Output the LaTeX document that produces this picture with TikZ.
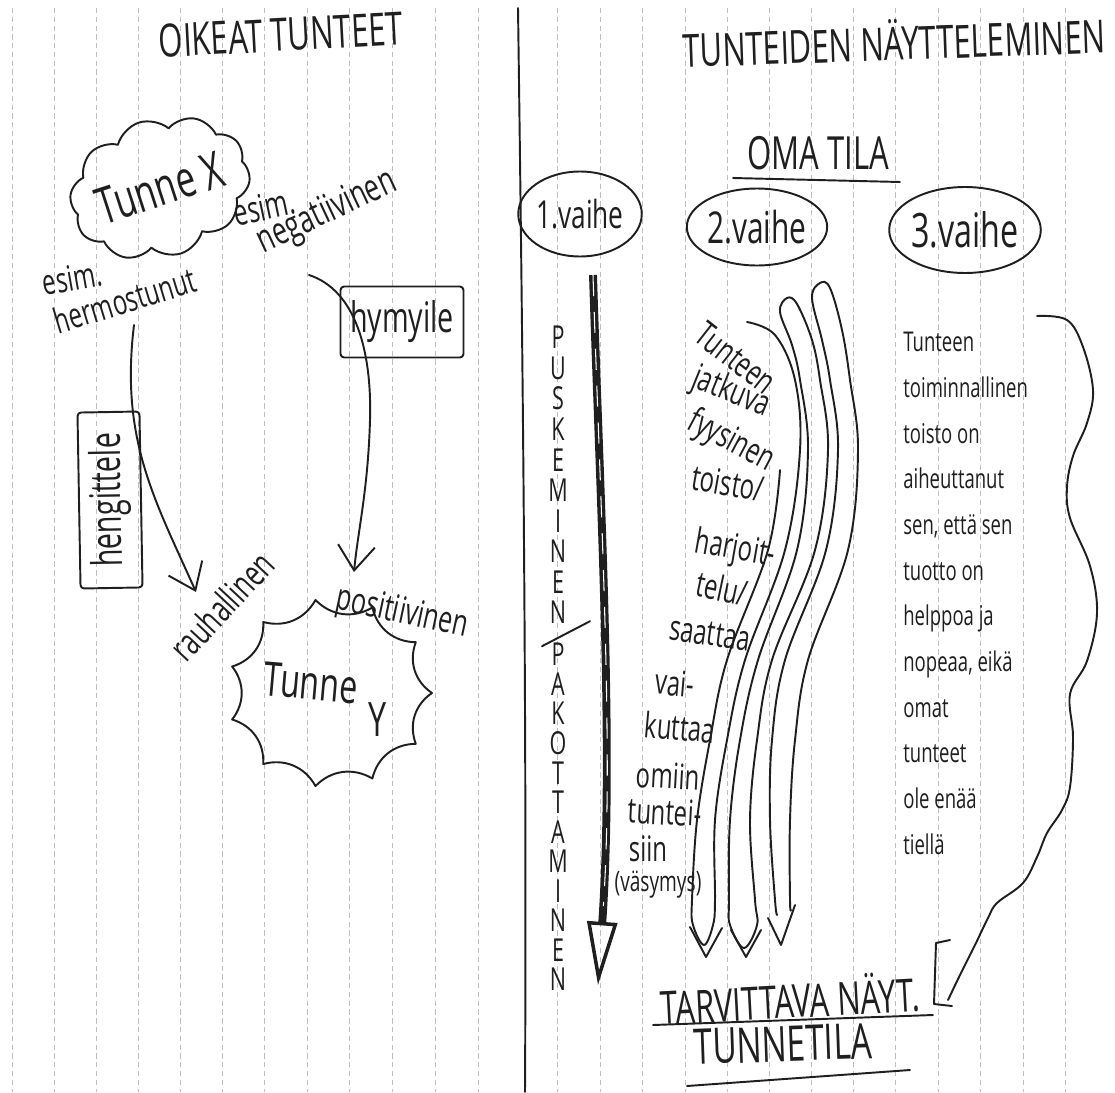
\documentclass[tikz,border=0pt]{standalone}
\usepackage{fontspec}
\setmainfont{Open Sans}[FakeStretch=0.68]
\usetikzlibrary{shapes.geometric,shapes.symbols,arrows.meta,calc}
\begin{document}
\begin{tikzpicture}[x=0.02cm, y=-0.02cm,
  ink/.style={draw=black!88, line width=1.1pt, line cap=round, line join=round},
  lbl/.style={inner sep=0pt, text=black!88},
  paper/.style={draw=black!25, line width=0.45pt, dash pattern=on 3pt off 2pt},
  barb/.style={-{Straight Barb[length=14pt, width=21pt, line width=1.1pt]}},
  boxed/.style={ink, lbl, rounded corners=2pt},
  oval/.style={ink, lbl, ellipse},
  fz/.style={font=\fontsize{#1}{#1}\selectfont},
]
\useasboundingbox (0,0) rectangle (1115,1092);
\fill[white] (0,0) rectangle (1115,1092);
% paper rulings
\foreach \x in {12,54,96,138,180,222,264,307,349,392,435,478,557,600,642,685,727,769,811,853,895,938,980,1023,1065}
  \draw[paper] (\x,8) -- (\x,1092);
% page divider
\draw[ink] (518,8) .. controls (522,300) and (527,700) .. (525,1092);

% ---------------- left page ----------------
\node[lbl, rotate=3, fz=26] (t1) at (281,35) {OIKEAT TUNTEET};
\node[ink, lbl, cloud, cloud puffs=10, cloud puff arc=115, cloud ignores aspect,
      minimum width=3.45cm, minimum height=2.75cm, rotate=18, fz=29] (tx) at (160,188) {Tunne X};
\node[lbl, rotate=12, fz=21] (en1) at (264,207) {esim.};
\node[lbl, rotate=25, fz=22] (en2) at (327,213) {negatiivinen};
\node[lbl, rotate=10, fz=20] (eh1) at (72,278) {esim.};
\node[lbl, rotate=17, fz=20] (eh2) at (125,300) {hermostunut};
\node[boxed, minimum width=2.46cm, minimum height=1.42cm, fz=24] (hy) at (402,322) {hymyile};
\node[boxed, rotate=91, minimum width=3.52cm, minimum height=1.24cm, fz=24] (he) at (110,500) {hengittele};
\node[lbl, rotate=47, fz=21] (rh) at (222,606) {rauhallinen};
\node[lbl, rotate=-12, fz=21] (ps) at (402,614) {positiivinen};
% burst
\coordinate (tyc) at (330,693);
\draw[ink] ($(tyc)+(0:2.04cm and 1.88cm)$)
  \foreach \k in {1,...,11}{ to[bend left=38] ($(tyc)+({\k*360/11}:2.04cm and 1.88cm)$) };
\node[lbl, rotate=-5, fz=27] (ty) at (311,683) {Tunne};
\node[lbl, fz=27] (tyy) at (378,720) {Y};
% arrows
\coordinate (hs) at (134,325);
\coordinate (hend) at (196,592);
\draw[ink, barb] (hs) .. controls (120,440) and (155,500) .. (hend);
\coordinate (ns) at (309,275);
\coordinate (nend) at (354,572);
\draw[ink, barb] (ns) .. controls (355,290) and (372,350) .. (370,420) .. controls (368,490) and (358,530) .. (nend);

% ---------------- right page ----------------
\node[lbl, rotate=2, fz=26] (t2) at (894,40) {TUNTEIDEN NÄYTTELEMINEN};
\node[lbl, fz=26] (oma) at (818,153) {OMA TILA};
\draw[ink] ($(oma)+(-85,25)$) -- ($(oma)+(82,29)$);
\node[oval, minimum width=2.3cm, minimum height=1.7cm, fz=22] (v1) at (580,214) {1.vaihe};
\node[oval, minimum width=2.7cm, minimum height=1.54cm, fz=25] (v2) at (757,227) {2.vaihe};
\node[oval, minimum width=2.9cm, minimum height=1.72cm, fz=27] (v3) at (965,230) {3.vaihe};

% phase 1: thick arrow
\coordinate (k1) at (593,275);
\coordinate (k1e) at (598,985);
\draw[black!88, line width=4.5pt, -{Triangle[open, length=36pt, width=17pt, line width=2pt]}]
  (k1) .. controls (600,500) and (614,750) .. (k1e);
\draw[white, line width=0.6pt, dash pattern=on 12pt off 9pt, shorten >=45pt]
  (k1) .. controls (600,500) and (614,750) .. (k1e);
\node[lbl, align=center, font=\fontsize{18}{17.4}\selectfont] (pk1) at (558,475) {P\\U\\S\\K\\E\\M\\I\\N\\E\\N};
\node[lbl, align=center, font=\fontsize{18}{16.8}\selectfont] (pk2) at (558,817) {P\\A\\K\\O\\T\\T\\A\\M\\I\\N\\E\\N};
\draw[ink] ($(pk1.south)+(-16,22)$) -- ($(pk1.south)+(32,-3)$);

% phase 2: text
\node[lbl, rotate=-38, fz=20] (c2a) at (736,358) {Tunteen};
\node[lbl, rotate=-22, fz=20] (c2b) at (731,393) {jatkuva};
\node[lbl, rotate=-28, fz=20] (c2c) at (731,442) {fyysinen};
\node[lbl, rotate=-10, fz=20] (c2d) at (728,483) {toisto/};
\node[lbl, rotate=-10, fz=20] (c2e) at (735,550) {harjoit-};
\node[lbl, rotate=-12, fz=20] (c2f) at (722,588) {telu/};
\node[lbl, rotate=-8, fz=20] (c2g) at (710,634) {saattaa};
\node[lbl, rotate=-5, fz=20] (c2h) at (675,683) {vai-};
\node[lbl, rotate=-5, fz=20] (c2i) at (680,727) {kuttaa};
\node[lbl, rotate=-3, fz=20] (c2j) at (668,776) {omiin};
\node[lbl, rotate=-3, fz=20] (c2k) at (665,812) {tuntei-};
\node[lbl, fz=20] (c2l) at (648,849) {siin};
\node[lbl, fz=16] (c2m) at (658,885) {(väsymys)};
% phase 2: hollow arrows
\draw[ink] plot[smooth, tension=0.6] coordinates {(747,322) (775,335) (795,380) (800,450) (785,550) (745,660) (727,740) (715,820) (715,900) (713,925) (704,945) (693,925) (692,900) (697,820) (710,740) (727,660) (768,550) (780,470)};
\draw[ink] plot[smooth cycle, tension=0.6] coordinates {(730,925) (729,900) (730,820) (740,740) (758,660) (797,550) (808,450) (800,380) (792,345) (780,312) (787,298) (797,304) (812,340) (820,380) (828,450) (815,550) (772,660) (757,740) (750,820) (755,900) (757,925) (744,948)};
\draw[ink] plot[smooth, tension=0.6] coordinates {(777,915) (775,900) (770,820) (772,740) (785,660) (826,550) (838,450) (830,380) (822,340) (812,298) (820,283) (830,288) (842,330) (850,380) (858,450) (848,550) (808,660) (795,740) (790,820) (790,900) (791,910)};
\draw[ink] (690,927) -- (706,957) -- (722,928);
\draw[ink] (731,930) -- (746,957) -- (761,930);
\draw[ink] (768,918) -- (781,945) -- (795,905);

% phase 3: text and brace
\node[lbl, anchor=north west, align=left, font=\fontsize{15.5}{26}\selectfont] (c3) at (903,332)
  {Tunteen\\toiminnallinen\\toisto on\\aiheuttanut\\sen, että sen\\tuotto on\\helppoa ja\\nopeaa, eikä\\omat\\tunteet\\ole enää\\tiellä};
\draw[ink] plot[smooth, tension=0.6] coordinates {(1037,316) (1067,320) (1083,347) (1093,390) (1087,423) (1073,456) (1067,487) (1070,518) (1090,566) (1097,613) (1087,661) (1070,694) (1073,737) (1070,787) (1062,810) (1047,833) (1037,857) (1023,883) (997,903) (988,918) (975,945) (960,975) (948,1000)};
\draw[ink] (950,940) -- (936,943) -- (934,1004) -- (952,1006);

% target state
\node[lbl, rotate=3, fz=26] (tv) at (790,998) {TARVITTAVA NÄYT.};
\draw[ink] ($(tv)+(-137,27)$) -- ($(tv)+(143,17)$);
\node[lbl, rotate=2, fz=28] (tn) at (783,1044) {TUNNETILA};
\draw[ink] ($(tn)+(-96,42)$) -- ($(tn)+(127,26)$);
\end{tikzpicture}
\end{document}
